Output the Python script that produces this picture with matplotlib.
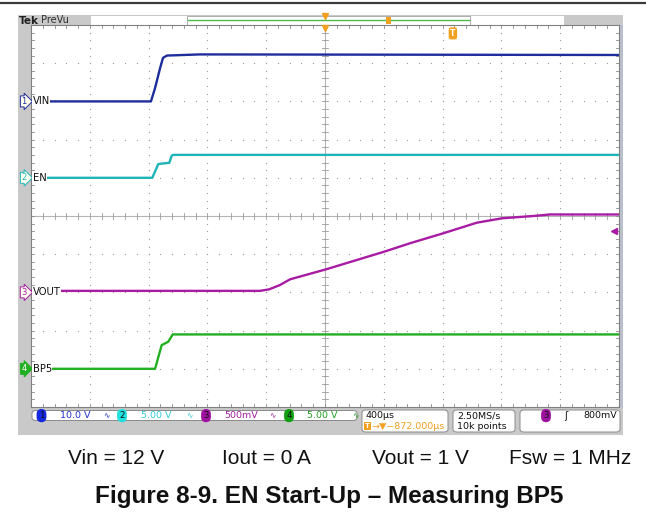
import matplotlib
matplotlib.use("Agg")
import matplotlib.pyplot as plt
import matplotlib.transforms as mtransforms
from matplotlib.patches import Rectangle, FancyBboxPatch
from matplotlib.lines import Line2D
import numpy as np

W, H = 646, 515

# ---------------- data (time in ms from left screen edge, values in volts) ----------------
t_vin = [0.0, 0.816, 0.844, 0.878, 0.898, 0.925, 1.15, 4.0]
v_vin = [0.0, 0.0, 3.5, 8.7, 11.4, 12.0, 12.3, 12.15]

t_en = [0.0, 0.825, 0.866, 0.941, 0.957, 0.966, 4.0]
v_en = [0.0, 0.0, 1.8, 1.97, 2.9, 3.0, 3.0]

t_vout = [0.0, 1.558, 1.62, 1.694, 1.762, 2.007, 2.216, 2.403, 2.578, 2.803, 3.032,
          3.204, 3.415, 3.531, 4.0]
v_vout = [0.02, 0.02, 0.04, 0.097, 0.171, 0.302, 0.424, 0.533, 0.643, 0.773, 0.912,
          0.97, 1.0, 1.02, 1.02]

t_bp5 = [0.0, 0.844, 0.889, 0.934, 0.964, 4.0]
v_bp5 = [0.0, 0.0, 3.1, 3.55, 4.5, 4.5]

channel_names = ["VIN", "EN", "VOUT", "BP5"]
volts_per_div = [10.0, 5.0, 0.5, 5.0]
offset_div = [3, 1, -2, -4]
trace_colors = ["#1e2c9c", "#1fb4b8", "#a81ca4", "#22b022"]
badge_colors = ["#1428e0", "#22e0e0", "#a012a0", "#12a012"]
scale_text_colors = ["#2030d0", "#30c8d8", "#a020a0", "#20a020"]
scale_labels = ["10.0 V", "5.00 V", "500mV", "5.00 V"]
time_div_label = "400µs"
delay_label = "→▼−872.000µs"
sample_labels = ["2.50MS/s", "10k points"]
trigger_level_label = "800mV"
trigger_level_v = 0.8
trigger_time = 2.87
caption_items = ["Vin = 12 V", "Iout = 0 A", "Vout = 1 V", "Fsw = 1 MHz"]
caption_x = [68, 222, 372, 631]
title_text = "Figure 8-9. EN Start-Up – Measuring BP5"

ms_per_div = 0.4
n_xdiv, n_ydiv = 10, 10

orange = "#f2a020"
grid_gray = "#9c9c9c"


def fx(p):
    return p / W


def fy(p):
    return 1 - p / H


fig = plt.figure(figsize=(W / 100, H / 100), dpi=100)
fig.patch.set_facecolor("white")


def frect(x0, y0, x1, y1, **kw):
    r = Rectangle((fx(x0), fy(y1)), (x1 - x0) / W, (y1 - y0) / H,
                  transform=fig.transFigure, **kw)
    fig.add_artist(r)
    return r


def fround(x0, y0, x1, y1, **kw):
    r = FancyBboxPatch((fx(x0), fy(y1)), (x1 - x0) / W, (y1 - y0) / H,
                       boxstyle="round,pad=0,rounding_size=0.006",
                       transform=fig.transFigure, **kw)
    fig.add_artist(r)
    return r


# top rule
fig.add_artist(Line2D([0, 1], [fy(3), fy(3)], color="#3c3c3c", lw=1.6,
                      transform=fig.transFigure))

# scope bezel
frect(18, 15, 623, 435, facecolor="#c9c9c9", edgecolor="none", zorder=0)
frect(619, 25, 623, 407, facecolor="#b9c0cc", edgecolor="none", zorder=0.5)

# header
frect(91, 16, 564, 24.5, facecolor="white", edgecolor="none", zorder=1)
frect(187, 16, 470, 24.5, facecolor="white", edgecolor="#a0a0a0", lw=0.6, zorder=1.1)
fig.add_artist(Line2D([fx(188), fx(469)], [fy(19.5), fy(19.5)], color="#4cbb4c",
                      lw=1.0, transform=fig.transFigure, zorder=1.2))
frect(386, 16.5, 391, 23.5, facecolor=orange, edgecolor="none", zorder=1.3)
fig.text(fx(19), fy(20.5), "Tek", fontsize=7.5, fontweight="bold", color="#202020",
         va="center", ha="left", family="DejaVu Sans", zorder=2)
fig.text(fx(40.5), fy(20), "PreVu", fontsize=7, color="#303030",
         va="center", ha="left", family="DejaVu Sans", zorder=2)
fig.add_artist(Line2D([fx(325)], [fy(16)], marker="v", ms=4, color=orange,
                      transform=fig.transFigure, zorder=2))

# ---------------- scope screen axes ----------------
ax = fig.add_axes([fx(31), fy(407), (619 - 31) / W, (407 - 25) / H])
ax.set_xlim(0, n_xdiv * ms_per_div)
ax.set_ylim(-n_ydiv / 2, n_ydiv / 2)
ax.set_facecolor("white")
ax.set_xticks([])
ax.set_yticks([])
for s in ax.spines.values():
    s.set_color("#808080")
    s.set_linewidth(0.8)
ax.set_zorder(3)

# dotted major graticule
ys_minor = np.arange(-5, 5.001, 0.2)
xs_minor = np.arange(0, 4.0001, ms_per_div / 5)
for k in range(1, n_xdiv):
    if k == n_xdiv // 2:
        continue
    ax.plot(np.full_like(ys_minor, k * ms_per_div), ys_minor, ls="none",
            marker="o", ms=0.9, mew=0, color=grid_gray, zorder=1)
for j in range(-4, 5):
    if j == 0:
        continue
    ax.plot(xs_minor, np.full_like(xs_minor, j), ls="none",
            marker="o", ms=0.9, mew=0, color=grid_gray, zorder=1)

# center cross with ticks
ax.axhline(0, color="#b4b4b4", lw=0.8, zorder=1)
ax.axvline(2.0, color="#b4b4b4", lw=0.8, zorder=1)
tx = 0.022  # ~3px in x
ty = 0.075  # ~3px in y
for x in xs_minor:
    ax.plot([x, x], [-ty, ty], color="#9a9a9a", lw=0.6, zorder=1)
    ax.plot([x, x], [5, 5 - ty], color="#8a8a8a", lw=0.6, zorder=1)
    ax.plot([x, x], [-5, -5 + ty], color="#8a8a8a", lw=0.6, zorder=1)
for y in ys_minor:
    ax.plot([2.0 - tx, 2.0 + tx], [y, y], color="#9a9a9a", lw=0.6, zorder=1)
    ax.plot([0, tx], [y, y], color="#8a8a8a", lw=0.6, zorder=1)
    ax.plot([4.0, 4.0 - tx], [y, y], color="#8a8a8a", lw=0.6, zorder=1)

# traces
series = [(t_vin, v_vin), (t_en, v_en), (t_vout, v_vout), (t_bp5, v_bp5)]
for (t, v), vpd, off, col in zip(series, volts_per_div, offset_div, trace_colors):
    ax.plot(t, off + np.asarray(v) / vpd, color=col, lw=1.7, zorder=3,
            solid_joinstyle="round")

# trigger level marker (ch3), trigger position marker, center marker
ax.plot([3.965], [offset_div[2] + trigger_level_v / volts_per_div[2]], marker="<",
        ms=4, color=trace_colors[2], zorder=4, clip_on=False)
ax.text(trigger_time, 4.78, "T", fontsize=5.5, fontweight="bold", color="white",
        ha="center", va="center", zorder=5,
        bbox=dict(boxstyle="round,pad=0.2,rounding_size=0.3", fc=orange, ec="none"))
ax.plot([2.0], [4.93], marker="v", ms=4.5, color=orange, zorder=5, clip_on=False)

# channel labels on the left
blend = mtransforms.blended_transform_factory(fig.transFigure, ax.transData)
for i, (name, off, col) in enumerate(zip(channel_names, offset_div, trace_colors)):
    filled = (i == 3)
    ax.text(fx(24), off, str(i + 1), transform=blend, fontsize=6,
            ha="center", va="center", color="white" if filled else col,
            zorder=6, clip_on=False,
            bbox=dict(boxstyle="rarrow,pad=0.12", fc=col if filled else "#fffff0",
                      ec=col, lw=0.7))
    ax.text(fx(32.5), off, name, transform=blend, fontsize=7.2, color="#101010",
            ha="left", va="center", zorder=6, family="DejaVu Sans",
            bbox=dict(boxstyle="square,pad=0.05", fc="white", ec="none"))

# ---------------- status bar ----------------
box_ec = "#8a8a8a"
fround(32, 410.5, 357, 420.5, facecolor="white", edgecolor=box_ec, lw=0.7, zorder=1)
fround(362, 410, 448, 432, facecolor="white", edgecolor=box_ec, lw=0.7, zorder=1)
fround(453, 410, 515, 432, facecolor="white", edgecolor=box_ec, lw=0.7, zorder=1)
fround(520, 410, 620, 432, facecolor="white", edgecolor=box_ec, lw=0.7, zorder=1)

row1, row2 = 415.6, 426.3
badge_x = [41.5, 122, 206, 289]
label_x = [60, 141, 224, 307]
bw_x = [106, 189, 272, 355]
for i in range(4):
    fig.text(fx(badge_x[i]), fy(row1), str(i + 1), fontsize=6.2, color="#101010",
             ha="center", va="center", zorder=3,
             bbox=dict(boxstyle="round,pad=0.25,rounding_size=0.6",
                       fc=badge_colors[i], ec="none"))
    fig.text(fx(label_x[i]), fy(row1), scale_labels[i], fontsize=6.8,
             color=scale_text_colors[i], ha="left", va="center", zorder=3)
    fig.text(fx(bw_x[i]), fy(row1), "∿", fontsize=5.5,
             color=scale_text_colors[i], ha="center", va="center", zorder=3)

fig.text(fx(366), fy(row1), time_div_label, fontsize=6.8, color="#101010",
         ha="left", va="center", zorder=3)
fig.text(fx(367.5), fy(row2), "T", fontsize=5, fontweight="bold", color="white",
         ha="center", va="center", zorder=3,
         bbox=dict(boxstyle="square,pad=0.12", fc=orange, ec="none"))
fig.text(fx(371), fy(row2), delay_label, fontsize=6.8, color=orange,
         ha="left", va="center", zorder=3)
fig.text(fx(457), fy(row1), sample_labels[0], fontsize=6.8, color="#101010",
         ha="left", va="center", zorder=3)
fig.text(fx(457), fy(row2), sample_labels[1], fontsize=6.8, color="#101010",
         ha="left", va="center", zorder=3)
fig.text(fx(546), fy(row1), "3", fontsize=6.2, color="#101010",
         ha="center", va="center", zorder=3,
         bbox=dict(boxstyle="round,pad=0.25,rounding_size=0.6",
                   fc=badge_colors[2], ec="none"))
fig.text(fx(566), fy(row1), "ʃ", fontsize=7, color="#101010",
         ha="center", va="center", zorder=3)
fig.text(fx(617), fy(row1), trigger_level_label, fontsize=6.8, color="#101010",
         ha="right", va="center", zorder=3)

# ---------------- caption and title ----------------
for i, (txt, x) in enumerate(zip(caption_items, caption_x)):
    fig.text(fx(x), fy(458.5), txt, fontsize=15, color="#111111",
             ha="right" if i == 3 else "left", va="center", family="Liberation Sans")
fig.text(fx(329), fy(497), title_text, fontsize=17.5, fontweight="bold",
         color="#111111", ha="center", va="center", family="Liberation Sans")

fig.savefig("out.png", dpi=100)
